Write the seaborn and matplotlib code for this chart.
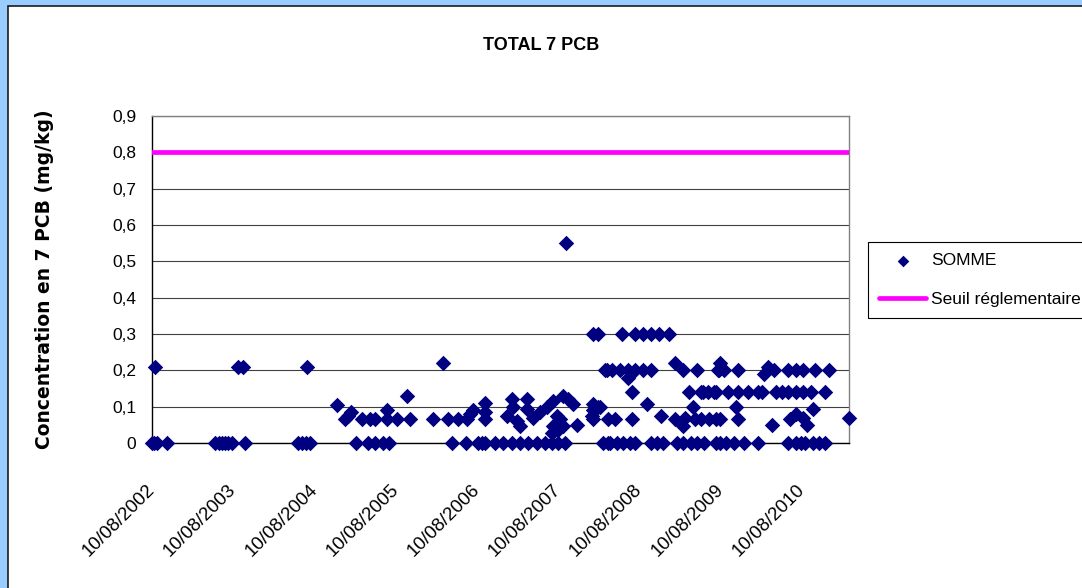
import matplotlib
matplotlib.use("Agg")
import matplotlib.pyplot as plt
import matplotlib.dates as mdates
from matplotlib.patches import Rectangle
import seaborn as sns
import pandas as pd

# ---------------- data ----------------
somme_dates = [
    "2002-08-12", "2002-08-19", "2002-08-23", "2002-09-01", "2002-10-16",
    "2003-05-20", "2003-06-07", "2003-06-21", "2003-07-04", "2003-07-18",
    "2003-08-05", "2003-09-01", "2003-09-23", "2003-10-02",
    "2004-05-28", "2004-06-15", "2004-07-03", "2004-07-08", "2004-07-21",
    "2004-11-20", "2004-12-26", "2005-01-08", "2005-01-22", "2005-02-13",
    "2005-03-12", "2005-04-08", "2005-04-17", "2005-05-09", "2005-05-09",
    "2005-06-14", "2005-07-03", "2005-07-03", "2005-07-12", "2005-08-16",
    "2005-09-30", "2005-10-14", "2006-01-25", "2006-03-11", "2006-04-03",
    "2006-04-21", "2006-05-18", "2006-06-23", "2006-06-27", "2006-07-11",
    "2006-07-24", "2006-08-15", "2006-09-02", "2006-09-16", "2006-09-16",
    "2006-09-16", "2006-09-16", "2006-10-31", "2006-12-06", "2006-12-24",
    "2007-01-15", "2007-01-15", "2007-01-20", "2007-02-07", "2007-02-20",
    "2007-02-20", "2007-03-24", "2007-03-24", "2007-03-28", "2007-04-20",
    "2007-05-08", "2007-05-21", "2007-06-13", "2007-06-22", "2007-07-14",
    "2007-07-14", "2007-07-19", "2007-07-19", "2007-08-06", "2007-08-10",
    "2007-08-10", "2007-08-19", "2007-09-01", "2007-09-01", "2007-09-10",
    "2007-09-15", "2007-09-24", "2007-10-17", "2007-11-04",
    "2008-01-10", "2008-01-15", "2008-01-15", "2008-01-15", "2008-01-15",
    "2008-02-06", "2008-02-06", "2008-02-15", "2008-02-29", "2008-03-09",
    "2008-03-18", "2008-03-22", "2008-03-22", "2008-03-31", "2008-04-09",
    "2008-04-23", "2008-05-02", "2008-05-15", "2008-05-24", "2008-05-29",
    "2008-06-20", "2008-06-20", "2008-06-29", "2008-07-08", "2008-07-08",
    "2008-07-22", "2008-07-22", "2008-07-22", "2008-08-23", "2008-08-23",
    "2008-09-14", "2008-09-28", "2008-09-28", "2008-09-28", "2008-10-29",
    "2008-11-03", "2008-11-12", "2008-11-25", "2008-12-18",
    "2009-01-18", "2009-01-18", "2009-01-27", "2009-02-19", "2009-02-23",
    "2009-02-23", "2009-03-04", "2009-03-18", "2009-03-27", "2009-04-09",
    "2009-04-18", "2009-04-27", "2009-04-27", "2009-05-11", "2009-05-11",
    "2009-05-20", "2009-05-24", "2009-06-11", "2009-06-16", "2009-07-08",
    "2009-07-17", "2009-07-17", "2009-07-17", "2009-07-26", "2009-07-31",
    "2009-08-08", "2009-08-08", "2009-08-08", "2009-08-22", "2009-08-31",
    "2009-09-13", "2009-10-06", "2009-10-15", "2009-10-24", "2009-10-28",
    "2009-10-28", "2009-11-20", "2009-12-08",
    "2010-01-26", "2010-01-26", "2010-02-13", "2010-02-18", "2010-03-12",
    "2010-03-30", "2010-04-04", "2010-04-13", "2010-05-14", "2010-06-10",
    "2010-06-10", "2010-06-10", "2010-06-19", "2010-07-12", "2010-07-12",
    "2010-07-12", "2010-07-12", "2010-08-03", "2010-08-12", "2010-08-12",
    "2010-08-16", "2010-08-25", "2010-09-03", "2010-09-17", "2010-09-30",
    "2010-09-30", "2010-10-09", "2010-10-23", "2010-11-23", "2010-11-23",
    "2010-12-07", "2011-03-07",
]
somme_values = [
    0, 0, 0.21, 0, 0,
    0, 0, 0, 0, 0,
    0, 0.21, 0.21, 0,
    0, 0, 0, 0.21, 0,
    0.105, 0.065, 0.075, 0.084, 0,
    0.065, 0, 0.065, 0.065, 0,
    0, 0.09, 0.065, 0, 0.065,
    0.13, 0.065, 0.065, 0.22, 0.065,
    0, 0.065, 0, 0.065, 0.08,
    0.09, 0, 0, 0.065, 0.085,
    0.11, 0, 0, 0, 0.075,
    0.12, 0, 0.1, 0.06, 0.047,
    0, 0.12, 0.093, 0, 0.07,
    0, 0.085, 0, 0.1, 0.028,
    0, 0.115, 0.047, 0.075, 0.037,
    0, 0.065, 0.13, 0.047, 0,
    0.55, 0.12, 0.107, 0.05,
    0.075, 0.107, 0.09, 0.065, 0.3,
    0.3, 0.098, 0.1, 0, 0.2,
    0.2, 0.065, 0, 0, 0.2,
    0.065, 0, 0.2, 0.3, 0,
    0.2, 0.18, 0, 0.14, 0.065,
    0.2, 0.3, 0, 0.2, 0.3,
    0.107, 0.2, 0.3, 0, 0,
    0.3, 0.075, 0, 0.3,
    0.22, 0.065, 0, 0.2, 0.047,
    0, 0.07, 0.14, 0, 0.1,
    0.065, 0.2, 0, 0.14, 0.065,
    0.14, 0, 0.14, 0.065, 0.14,
    0.14, 0.065, 0, 0.2, 0.2,
    0.22, 0.065, 0, 0.2, 0,
    0.14, 0, 0.1, 0.14, 0.2,
    0.065, 0, 0.14,
    0.14, 0, 0.14, 0.19, 0.21,
    0.05, 0.2, 0.14, 0.14, 0.2,
    0.14, 0, 0.065, 0.2, 0.14,
    0.08, 0, 0, 0.2, 0.14,
    0.07, 0, 0.05, 0.14, 0.093,
    0, 0.2, 0, 0.14, 0,
    0.2, 0.07,
]
seuil_dates = ["2002-08-10", "2011-03-09"]
seuil_values = [0.8, 0.8]

xtick_dates = ["2002-08-10", "2003-08-10", "2004-08-10", "2005-08-10",
               "2006-08-10", "2007-08-10", "2008-08-10", "2009-08-10",
               "2010-08-10"]
xtick_labels = ["10/08/2002", "10/08/2003", "10/08/2004", "10/08/2005",
                "10/08/2006", "10/08/2007", "10/08/2008", "10/08/2009",
                "10/08/2010"]
ytick_values = [0, 0.1, 0.2, 0.3, 0.4, 0.5, 0.6, 0.7, 0.8, 0.9]
ytick_labels = ["0", "0,1", "0,2", "0,3", "0,4", "0,5", "0,6", "0,7", "0,8", "0,9"]

title_text = "TOTAL 7 PCB"
ylabel_text = "Concentration en 7 PCB (mg/kg)"

# ---------------- style ----------------
sns.set_style("white")
plt.rcParams["font.family"] = ["Liberation Sans", "DejaVu Sans"]
plt.rcParams["text.color"] = "black"
plt.rcParams["axes.labelcolor"] = "black"
plt.rcParams["xtick.color"] = "black"
plt.rcParams["ytick.color"] = "black"

W, H = 1082, 588
fig = plt.figure(figsize=(W / 100, H / 100), dpi=100, facecolor="#99CCFF")
fig.patches.append(Rectangle((8 / W, -0.05), 1.2, 1 - 6 / H + 0.05,
                             transform=fig.transFigure, facecolor="white",
                             edgecolor="#1a1a1a", lw=1.2, zorder=-10))

ax = fig.add_axes([152 / W, 1 - 443 / H, (849 - 152) / W, (443 - 116) / H])
ax.set_facecolor("white")

df = pd.DataFrame({"date": pd.to_datetime(somme_dates), "value": somme_values})
sns.scatterplot(data=df, x="date", y="value", marker="D", s=62,
                color="#000080", linewidth=0, label="SOMME", ax=ax,
                clip_on=False, zorder=4)
sns.lineplot(x=pd.to_datetime(seuil_dates), y=seuil_values, color="#FF00FF",
             lw=3.4, label="Seuil réglementaire", ax=ax, zorder=3)

ax.set_xlim(mdates.date2num(pd.Timestamp(seuil_dates[0])),
            mdates.date2num(pd.Timestamp(seuil_dates[1])))
ax.set_ylim(0, 0.9)
ax.set_yticks(ytick_values)
ax.set_yticklabels(ytick_labels)
ax.set_xticks(mdates.date2num(pd.to_datetime(xtick_dates).to_pydatetime()))
ax.set_xticklabels(xtick_labels, rotation=45, ha="right", va="center",
                   rotation_mode="anchor")

ax.yaxis.grid(True, color="#404040", lw=0.8)
ax.xaxis.grid(False)
ax.set_axisbelow(True)
ax.tick_params(axis="both", direction="out", length=5, width=0.8,
               color="#404040", labelsize=12.5, labelcolor="black")
ax.tick_params(axis="x", pad=27, labelsize=13.5)
ax.tick_params(axis="y", pad=6.5)
for side in ["left", "bottom"]:
    ax.spines[side].set_color("black")
    ax.spines[side].set_linewidth(1.0)
for side in ["top", "right"]:
    ax.spines[side].set_color("#808080")
    ax.spines[side].set_linewidth(1.0)

ax.set_xlabel("")
ax.set_ylabel(ylabel_text, fontsize=13.5, fontweight="bold",
              family=["DejaVu Sans"], color="black")
ax.yaxis.set_label_coords(-0.140, 0.5)

fig.text(541 / W, 1 - 46 / H, title_text, ha="center", va="center",
         fontsize=13, fontweight="bold", color="black")

handles, labels = ax.get_legend_handles_labels()
order = [labels.index("SOMME"), labels.index("Seuil réglementaire")]
leg = ax.legend([handles[i] for i in order], [labels[i] for i in order],
                loc="upper left", bbox_to_anchor=(868 / W, 1 - 242 / H),
                bbox_transform=fig.transFigure, frameon=True, fancybox=False,
                edgecolor="black", framealpha=1, fontsize=12.5,
                handlelength=2.7, handletextpad=0.3, labelspacing=1.35,
                borderpad=0.65, markerscale=0.75, borderaxespad=0)
leg.get_frame().set_linewidth(0.8)
for t in leg.get_texts():
    t.set_color("black")

fig.savefig("out.png", dpi=100, facecolor=fig.get_facecolor())
